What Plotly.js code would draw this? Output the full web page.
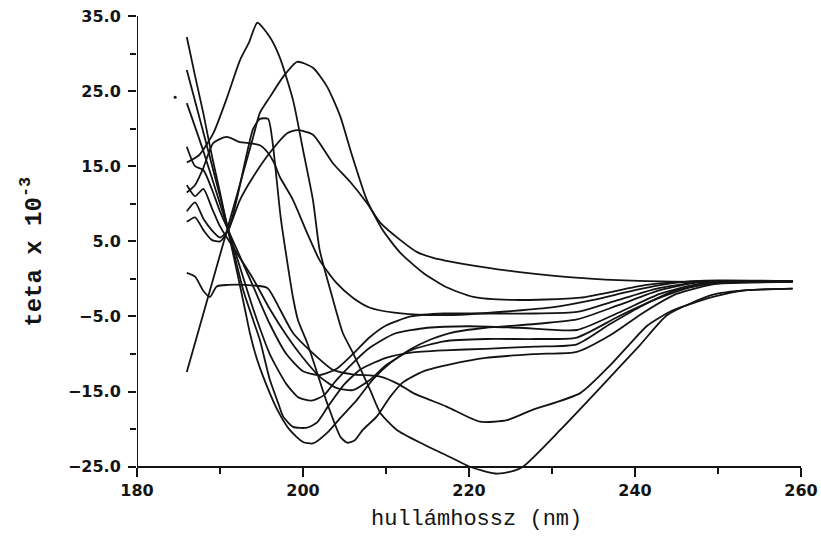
<!DOCTYPE html>
<html>
<head>
<meta charset="utf-8">
<script src="https://cdn.plot.ly/plotly-3.0.1.min.js"></script>
<style>html,body{margin:0;padding:0;background:#fff;}#chart{width:821px;height:548px;}</style>
</head>
<body>
<div id="chart"></div>
<script>
// wavelength (nm) and theta x 10^-3 values
const wlA = [186,187.5,189.2,190.8,192.4,193.5,194.5,196,197.2,198.8,200,201.2,202,203.3,204.8,206,208.1,209.3,211.3,214.5,217.7,220.1,223.1,224.9,226.5,231,235.8,240.6,243.9,249.4,253.5,259];
const thA = [15.5,16.5,19.4,24,29.1,31.5,34.1,32.2,29.5,23.8,17.2,10.5,3.9,-1.5,-7.2,-9.8,-14.8,-17.8,-20.1,-22,-23.7,-25,-25.9,-25.7,-25,-20.1,-14.5,-8.8,-4.8,-2.1,-1.5,-1.3];

const wlB = [186,188,190,192,194,194.8,196,197.6,199.3,201.2,202.9,204.5,205.7,207.7,209.6,211.7,214.5,217.3,220.5,225.3,233.4,241.4,247.8,255,259];
const thB = [-12.4,-4.6,3.2,11,18.9,22.1,24.2,26.9,28.9,28.1,25.6,21.6,17.2,10.5,6.5,3.5,0.8,-1.1,-2.4,-2.8,-2.5,-0.8,-0.3,-0.3,-0.4];

const wlC = [186,187,188,189,190,191,192.4,194,196,198.1,199.3,201.2,203.6,205.7,207.7,209.3,211.7,213.7,215.7,219.8,226.1,229.4,235,241.4,247.8,259];
const thC = [7.6,8.2,6.5,5.2,5,6.5,10.5,13.6,16.8,19.4,19.8,19.2,15.4,12.9,10.1,7.5,5.2,3.6,2.8,1.9,0.9,0.5,0,-0.3,-0.4,-0.4];

const wlD = [186,187,188,189,190,191,192,193,194,194.8,195.8,196.3,196.8,197.3,198,198.8,199.4,200.5,201.2,202.9,204.5,205.3,206.2,207.2,208.9,210.5,212,214.5,218,222,228,233,237,241,245,250,259];
const thD = [9,10.2,8,6.5,5.5,6.5,10.5,15.5,20,21.3,21.3,18.5,13.5,8.3,3,-2.5,-5.5,-8.5,-10.8,-16.5,-21,-21.8,-21.5,-20.1,-18.3,-15.7,-13.8,-12.3,-11.3,-10.5,-10,-9.7,-7.5,-4.5,-2,-0.6,-0.3];

const wlE = [186,187,188,189.2,190.8,192.4,193.3,194.8,195.7,196.5,197.2,198.8,200.5,202,204,206,208,211,215,220,225,230,235,240,245,250,259];
const thE = [11.5,12.5,14.8,18.1,18.9,18.2,18.1,17.8,16.9,15.5,13.6,10.5,6.1,2.5,-0.5,-2.5,-3.8,-4.5,-4.8,-4.7,-4.3,-3.8,-2.8,-1.5,-0.5,-0.2,-0.3];

const wlF = [186,187,188,189,190,191,192,193,193.6,194.4,195.2,196.9,198.4,200,201.2,202.9,204.5,206.5,208.4,210.5,212.9,215.3,217.7,222,228,233,238,243,248,259];
const thF = [32.2,27,22,16.5,11.5,6.3,1.2,-4,-7.2,-10.5,-13,-17.4,-20.1,-21.7,-21.9,-20.5,-18.5,-16.1,-13.4,-11.2,-9.4,-8.1,-7.2,-6.5,-6,-5.4,-3.5,-1.5,-0.4,-0.3];

const wlG = [186,188,190,192,192.8,194,194.8,196,197,197.6,198.8,200.5,201.7,203,205,207,210,213,217,222,228,233,237,241,245,250,259];
const thG = [27.8,19.5,11,2,-1.5,-5.5,-8.1,-13.4,-16.5,-18.3,-19.7,-19.8,-19.1,-17,-14,-12,-10.5,-9.8,-9.5,-9.3,-9,-8.7,-6,-3.5,-1.5,-0.5,-0.3];

const wlH = [186,188,190,192,194,196,198,199.5,201,202.5,204,206,208,211,215,220,226,233,238,243,248,259];
const thH = [23.4,17,10,3,-4,-10,-14,-15.8,-16.2,-15.5,-13.5,-11.2,-9.2,-7.3,-6.5,-6.3,-6.5,-6.8,-4.5,-2,-0.6,-0.3];

const wlI = [186,187,188,189,190,192,194,196,198,200,202,204,206,208,210,213,217,222,228,233,238,243,248,259];
const thI = [17.6,15,14.5,12,9,4,-1,-6,-10,-12.3,-12.8,-12,-10,-7.8,-6.2,-5,-4.6,-4.6,-4.6,-4.4,-2.8,-1.2,-0.4,-0.3];

const wlJ = [186,187,188,189,190,192,194,196,198,200,202,204,206,208,210,213,217,222,228,233,238,243,248,259];
const thJ = [12.5,11,12,9.5,7,3.5,0,-4,-7.5,-10.5,-13,-14.5,-14.8,-13.5,-11.5,-9.5,-8.3,-8,-8,-7.8,-5,-2.5,-0.8,-0.4];

const wlK = [186,187,188,188.8,189.6,191,193,195.7,197.2,198.8,201.7,203.6,206,209.3,211.5,213.3,217.3,221.3,224.6,227.5,233.4,237,239.5,241.5,244.5,249.4,253.5,259];
const thK = [0.8,0.3,-1.6,-2.4,-1,-0.8,-0.8,-1.2,-4,-7.2,-10.4,-12.1,-12.7,-13,-14,-15.2,-17,-19,-18.8,-17.5,-15.2,-11.5,-8.5,-6.2,-4.2,-2.4,-1.5,-1.3];

const dotWl = [184.6];
const dotTh = [24.2];

const xTickVals = [180,200,220,240,260];
const xTickText = ['180','200','220','240','260'];
const yTickVals = [-25,-15,-5,5,15,25,35];
const yTickText = ['\u221225.0','\u221215.0','\u22125.0','5.0','15.0','25.0','35.0'];

const series = [[wlA,thA],[wlB,thB],[wlC,thC],[wlD,thD],[wlE,thE],[wlF,thF],[wlG,thG],[wlH,thH],[wlI,thI],[wlJ,thJ],[wlK,thK]];
const ink = '#141414';

const traces = series.map(function(s){
  return {x:s[0], y:s[1], type:'scatter', mode:'lines',
    line:{color:ink, width:1.8, shape:'spline', smoothing:0.6},
    hoverinfo:'skip', showlegend:false};
});
traces.push({x:dotWl, y:dotTh, type:'scatter', mode:'markers',
  marker:{color:ink, size:3}, hoverinfo:'skip', showlegend:false});

const tickFont = {family:'DejaVu Sans', size:16, color:ink, weight:'bold'};
const yMin = -26.5, yBase = -25, yMax = 35;

const layout = {
  width:821, height:548,
  margin:{l:137, r:20, t:16, b:70, pad:0},
  paper_bgcolor:'#fff', plot_bgcolor:'#fff',
  showlegend:false,
  xaxis:{range:[180,260], tickmode:'array', tickvals:xTickVals, ticktext:xTickText,
    anchor:'free', position:(yBase - yMin) / (yMax - yMin),
    ticks:'outside', ticklen:9, tickwidth:2, tickcolor:ink,
    minor:{tickmode:'linear', tick0:180, dtick:10, ticks:'outside', ticklen:6, tickwidth:2, tickcolor:ink},
    showline:true, linecolor:ink, linewidth:2, showgrid:false, zeroline:false,
    tickfont:tickFont, fixedrange:true},
  yaxis:{range:[yMin, yMax], tickmode:'array', tickvals:yTickVals, ticktext:yTickText,
    ticks:'outside', ticklen:8, tickwidth:2, tickcolor:ink,
    minor:{tickmode:'linear', tick0:0, dtick:5, ticks:'outside', ticklen:6, tickwidth:2, tickcolor:ink},
    showline:false, showgrid:false, zeroline:false,
    tickfont:tickFont, ticklabelstandoff:4, fixedrange:true},
  shapes:[
    {type:'line', xref:'x', yref:'y', x0:180, x1:180, y0:yBase, y1:yMax,
     line:{color:ink, width:2}, layer:'above'}
  ],
  annotations:[
    {text:'hullámhossz (nm)', xref:'paper', yref:'paper', x:0.512, y:-0.09,
     xanchor:'center', yanchor:'middle', showarrow:false,
     font:{family:'Liberation Mono', size:22, color:ink}},
    {text:'teta x 10<sup>-3</sup>', xref:'paper', yref:'paper', x:-0.158, y:0.49,
     xanchor:'center', yanchor:'middle', showarrow:false, textangle:-90,
     font:{family:'Liberation Mono', size:24, color:ink, weight:'bold'}}
  ]
};

Plotly.newPlot('chart', traces, layout, {staticPlot:true, displayModeBar:false});
</script>
</body>
</html>
